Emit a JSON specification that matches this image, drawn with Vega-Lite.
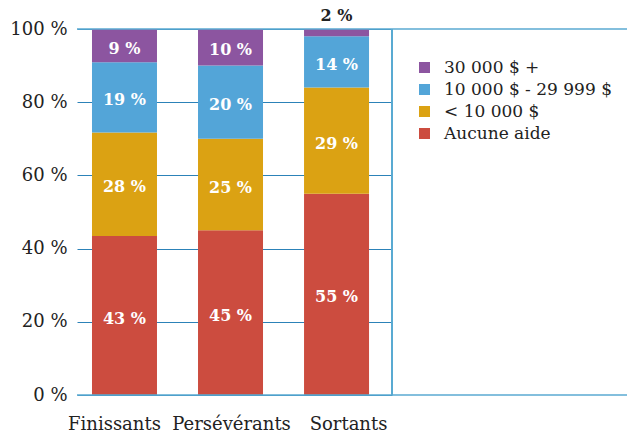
{
  "$schema": "https://vega.github.io/schema/vega-lite/v6.json",
  "width": 315,
  "height": 366,
  "autosize": "none",
  "padding": {"left": 77, "top": 29, "right": 235, "bottom": 39},
  "config": {
    "view": {"stroke": null},
    "font": "DejaVu Serif"
  },
  "data": {
    "values": [
      {"groupe": "Finissants", "aide": "Aucune aide", "pct": 43},
      {"groupe": "Finissants", "aide": "< 10 000 $", "pct": 28},
      {"groupe": "Finissants", "aide": "10 000 $ - 29 999 $", "pct": 19},
      {"groupe": "Finissants", "aide": "30 000 $ +", "pct": 9},
      {"groupe": "Persévérants", "aide": "Aucune aide", "pct": 45},
      {"groupe": "Persévérants", "aide": "< 10 000 $", "pct": 25},
      {"groupe": "Persévérants", "aide": "10 000 $ - 29 999 $", "pct": 20},
      {"groupe": "Persévérants", "aide": "30 000 $ +", "pct": 10},
      {"groupe": "Sortants", "aide": "Aucune aide", "pct": 55},
      {"groupe": "Sortants", "aide": "< 10 000 $", "pct": 29},
      {"groupe": "Sortants", "aide": "10 000 $ - 29 999 $", "pct": 14},
      {"groupe": "Sortants", "aide": "30 000 $ +", "pct": 2}
    ]
  },
  "layer": [
    {
      "transform": [
        {"calculate": "indexof(['Aucune aide', '< 10 000 $', '10 000 $ - 29 999 $', '30 000 $ +'], datum.aide)", "as": "rang"},
        {"calculate": "datum.pct + ' %'", "as": "etiquette"}
      ],
      "encoding": {
        "x": {
          "field": "groupe", "type": "nominal", "sort": null,
          "scale": {"paddingInner": 0.387, "paddingOuter": 0.179, "align": 0.395},
          "axis": {
            "title": null, "labelAngle": 0, "ticks": false, "domain": false, "labelFontSize": 18, "labelColor": "#222222", "labelPadding": 20, "labelFont": "DejaVu Serif", "labelOverlap": false,
            "labelOffset": {"condition": [{"test": "datum.value === 'Finissants'", "value": -10}, {"test": "datum.value === 'Sortants'", "value": 12}], "value": 1}
          }
        }
      },
      "layer": [
        {
          "mark": {"type": "bar"},
          "encoding": {
            "y": {
              "field": "pct", "type": "quantitative", "stack": "normalize",
              "scale": {"domain": [0, 1]},
              "axis": {"title": null, "values": [0, 0.2, 0.4, 0.6, 0.8, 1], "labelExpr": "round(datum.value * 100) + ' %'", "ticks": false, "domain": false, "labelFontSize": 18, "labelColor": "#222222", "labelPadding": 10, "labelFont": "DejaVu Serif", "gridColor": "#2c82b8", "gridWidth": 1, "gridOpacity": 1}
            },
            "order": {"field": "rang", "type": "quantitative", "sort": "ascending"},
            "color": {
              "field": "aide", "type": "nominal",
              "scale": {
                "domain": ["30 000 $ +", "10 000 $ - 29 999 $", "< 10 000 $", "Aucune aide"],
                "range": ["#8c55a0", "#53a5d8", "#dba213", "#cc4c3f"]
              },
              "legend": {
                "title": null, "orient": "none", "legendX": 339, "legendY": 30,
                "symbolType": "square", "symbolSize": 121, "symbolStrokeWidth": 0,
                "labelFontSize": 17, "labelFont": "DejaVu Serif", "labelColor": "#222222",
                "labelOffset": 11, "rowPadding": 4, "labelLimit": 0
              }
            }
          }
        },
        {
          "mark": {"type": "text", "fontSize": 16, "fontWeight": "bold", "font": "DejaVu Serif", "color": "white", "baseline": "middle", "dy": 3},
          "encoding": {
            "y": {"field": "pct", "type": "quantitative", "stack": "normalize", "bandPosition": 0.5},
            "order": {"field": "rang", "type": "quantitative", "sort": "ascending"},
            "detail": {"field": "aide"},
            "text": {"field": "etiquette", "type": "nominal"},
            "opacity": {"condition": {"test": "datum.pct < 5", "value": 0}, "value": 1}
          }
        },
        {
          "transform": [{"filter": "datum.pct < 5"}],
          "mark": {"type": "text", "fontSize": 16, "fontWeight": "bold", "font": "DejaVu Serif", "color": "#222222", "baseline": "middle", "dy": -13},
          "encoding": {
            "y": {"datum": 1, "type": "quantitative"},
            "text": {"field": "etiquette", "type": "nominal"}
          }
        }
      ]
    },
    {
      "data": {"values": [{"bord": 0}, {"bord": 1}]},
      "mark": {"type": "rule", "color": "#5aaad2", "strokeWidth": 1.5},
      "encoding": {
        "y": {"field": "bord", "type": "quantitative"},
        "x": {"datum": 0, "type": "quantitative", "scale": {"domain": [0, 1], "range": [0, 550]}, "axis": null},
        "x2": {"datum": 1}
      }
    },
    {
      "mark": {"type": "rule", "color": "#5aaad2", "strokeWidth": 1.5},
      "encoding": {"x": {"value": "width"}}
    }
  ],
  "resolve": {"scale": {"x": "independent"}}
}
